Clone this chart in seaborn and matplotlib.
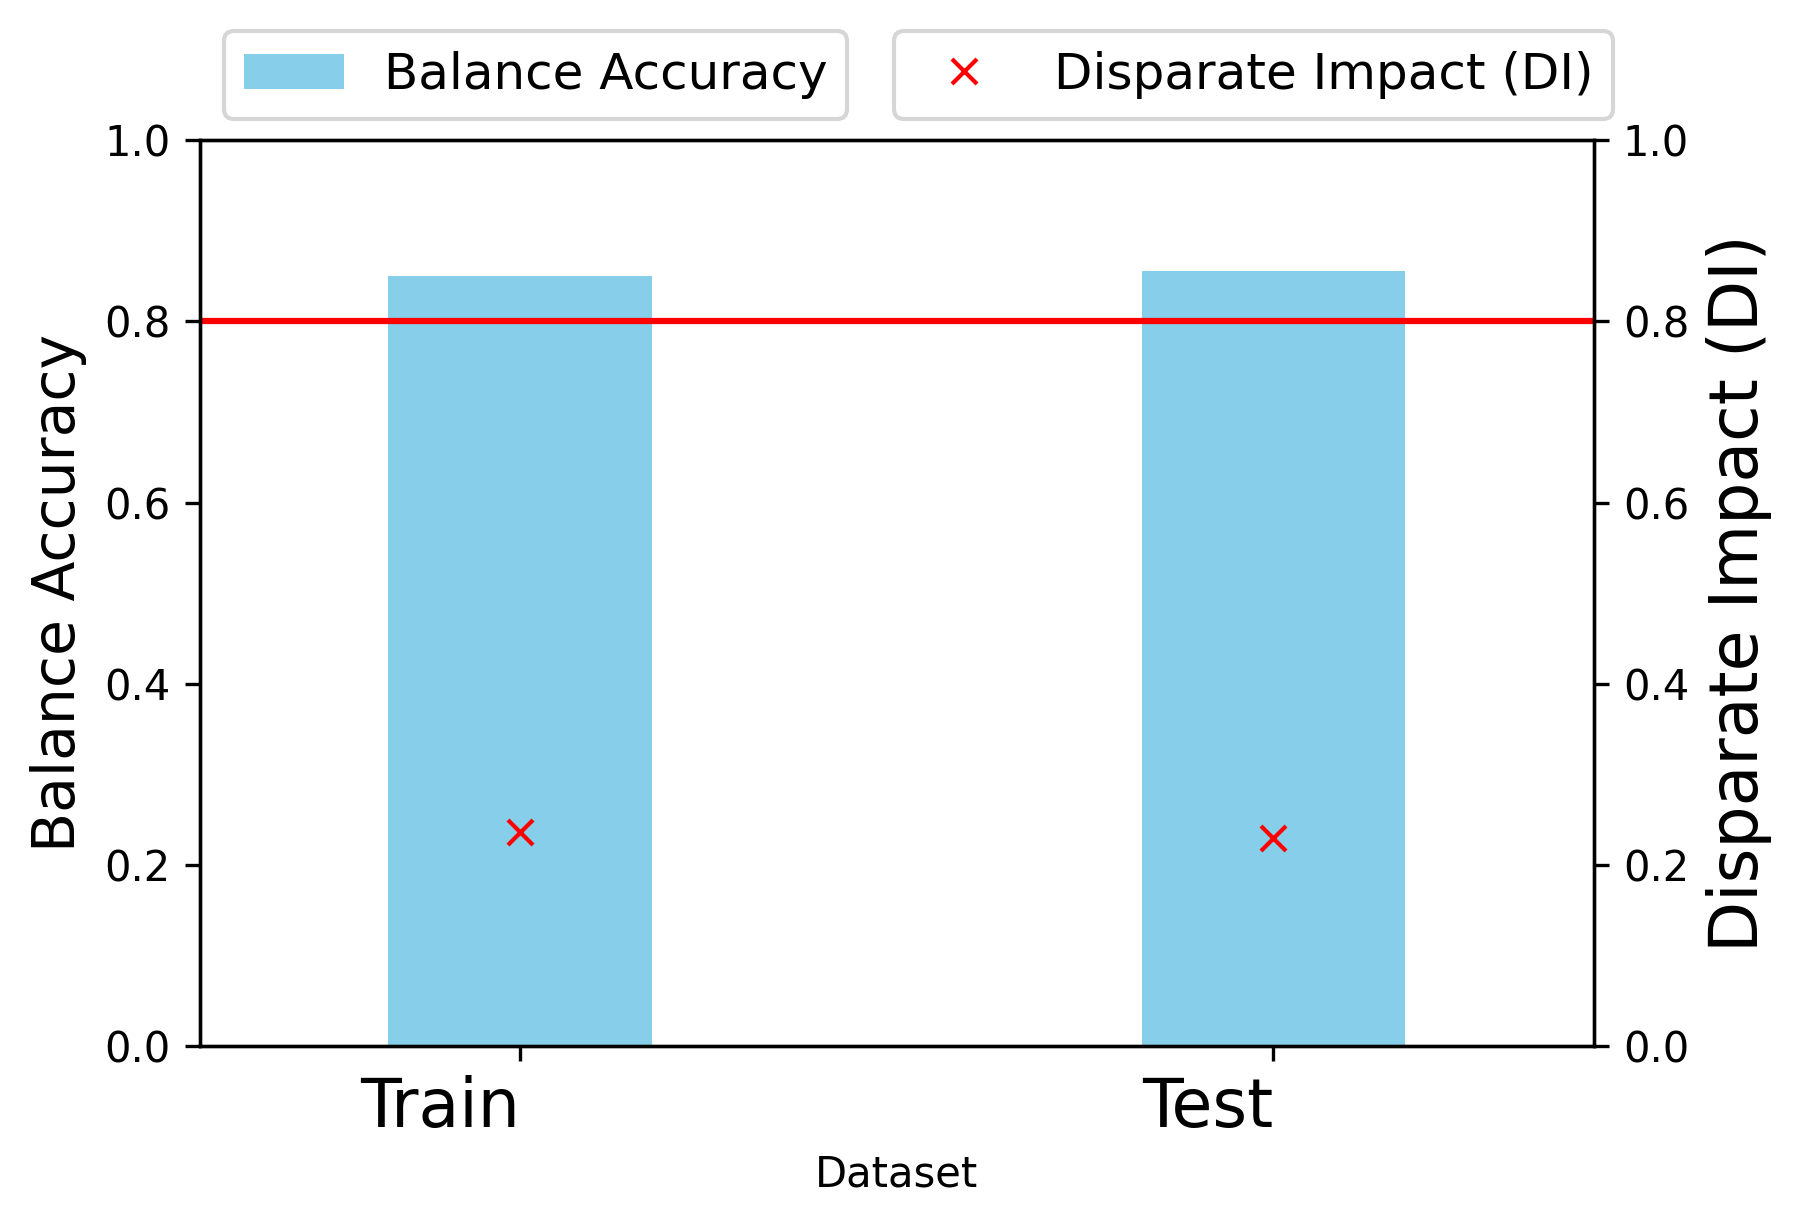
import matplotlib
matplotlib.use("Agg")
import matplotlib.pyplot as plt
from matplotlib.patches import Patch
from matplotlib.lines import Line2D
import seaborn as sns
import pandas as pd

datasets = ["Train", "Test"]
balance_accuracy = [0.850, 0.855]
disparate_impact = [0.236, 0.230]
di_threshold = 0.8

df = pd.DataFrame({"Dataset": datasets,
                   "Balance Accuracy": balance_accuracy,
                   "Disparate Impact (DI)": disparate_impact})

fig = plt.figure(figsize=(6.0, 4.0867), dpi=300)
ax = fig.add_axes([0.1109, 0.1466, 0.8854 - 0.1109, 0.8858 - 0.1466])

sns.barplot(data=df, x="Dataset", y="Balance Accuracy", color="skyblue",
            saturation=1, width=0.35, ax=ax)
ax.axhline(di_threshold, color="red", lw=1.5)
ax.set_ylim(0, 1)
ax.set_xlim(-0.425, 1.425)
ax.set_ylabel("Balance Accuracy", fontsize=14)
ax.set_xlabel("Dataset", fontsize=10, labelpad=2.9)
for lbl in ax.get_xticklabels():
    lbl.set_fontsize(16)
    lbl.set_horizontalalignment("right")

ax2 = ax.twinx()
sns.scatterplot(data=df, x="Dataset", y="Disparate Impact (DI)", marker="x",
                color="red", s=36, linewidth=1.0, ax=ax2, zorder=3)
ax2.set_ylim(0, 1)
ax2.set_xlim(-0.425, 1.425)
ax2.set_ylabel("Disparate Impact (DI)", fontsize=16)

h1 = [Patch(facecolor="skyblue", edgecolor="none")]
h2 = [Line2D([], [], marker="x", color="red", ls="none", markersize=6)]
fig.legend(h1, ["Balance Accuracy"], loc="center",
           bbox_to_anchor=(0.2975, 0.9390), fontsize=12)
fig.legend(h2, ["Disparate Impact (DI)"], loc="center",
           bbox_to_anchor=(0.6964, 0.9390), fontsize=12)

fig.savefig("out.png", dpi=300)
